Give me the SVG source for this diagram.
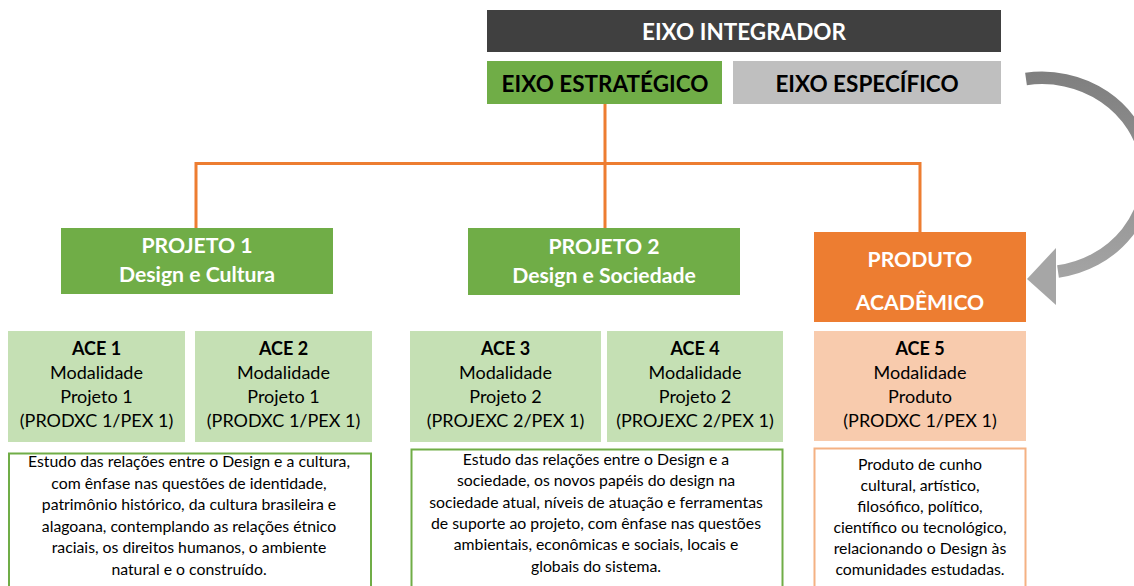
<svg xmlns="http://www.w3.org/2000/svg" width="1134" height="586" viewBox="0 0 1134 586">
<defs>
<style>
text{font-family:Lato,"Liberation Sans",sans-serif;text-anchor:middle}
.h{font-size:22.5px;font-weight:bold}
.p{font-size:21.2px;font-weight:bold;fill:#fff}
.a{font-size:18px;fill:#000}
.ab{font-weight:bold}
.d{font-size:15.8px;fill:#000}
.conn{fill:none;stroke:#ED7D31;stroke-width:3}
</style>
<linearGradient id="ag" gradientUnits="userSpaceOnUse" x1="0" y1="72" x2="0" y2="306">
<stop offset="0" stop-color="#7F7F7F"/>
<stop offset="1" stop-color="#A9A9A9"/>
</linearGradient>
</defs>
<rect width="1134" height="586" fill="#fff"/>
<g id="connectors">
<path class="conn" d="M605,104 V228 M196,163.5 H920 M196,162 V228 M920,162 V232"/>
<path d="M1026,79 A105 97 0 0 1 1058,271.5" fill="none" stroke="url(#ag)" stroke-width="12.5"/>
<polygon points="1027,279 1056,248 1056,305" fill="#A6A6A6"/>
</g>
<g id="eixo-integrador">
<rect x="487" y="10" width="514" height="42" fill="#404040"/>
<text class="h" x="744" y="40" fill="#fff">EIXO INTEGRADOR</text>
</g>
<g id="eixo-estrategico">
<rect x="487" y="61" width="235" height="43" fill="#70AD47"/>
<text class="h" x="605" y="92" fill="#000">EIXO ESTRATÉGICO</text>
</g>
<g id="eixo-especifico">
<rect x="733" y="61" width="268" height="43" fill="#BFBFBF"/>
<text class="h" x="867" y="92" fill="#000">EIXO ESPECÍFICO</text>
</g>
<g id="projeto1">
<rect x="61" y="228" width="272" height="66" fill="#70AD47"/>
<text class="p" x="197" y="253">PROJETO 1</text>
<text class="p" x="197" y="282">Design e Cultura</text>
</g>
<g id="projeto2">
<rect x="468" y="228" width="272" height="67" fill="#70AD47"/>
<text class="p" x="604" y="254">PROJETO 2</text>
<text class="p" x="604" y="283">Design e Sociedade</text>
</g>
<g id="produto">
<rect x="814" y="232" width="212" height="90" fill="#ED7D31"/>
<text class="p" x="920" y="267">PRODUTO</text>
<text class="p" x="920" y="310">ACADÊMICO</text>
</g>
<g id="ace1">
<rect x="8" y="331" width="177" height="111" fill="#C5E0B4"/>
<text class="a" x="96.5" y="355"><tspan class="ab">ACE 1</tspan><tspan x="96.5" y="379">Modalidade</tspan><tspan x="96.5" y="403">Projeto 1</tspan><tspan x="96.5" y="427">(PRODXC 1/PEX 1)</tspan></text>
</g>
<g id="ace2">
<rect x="195" y="331" width="177" height="111" fill="#C5E0B4"/>
<text class="a" x="283.5" y="355"><tspan class="ab">ACE 2</tspan><tspan x="283.5" y="379">Modalidade</tspan><tspan x="283.5" y="403">Projeto 1</tspan><tspan x="283.5" y="427">(PRODXC 1/PEX 1)</tspan></text>
</g>
<g id="ace3">
<rect x="410" y="331" width="191" height="111" fill="#C5E0B4"/>
<text class="a" x="505.5" y="355"><tspan class="ab">ACE 3</tspan><tspan x="505.5" y="379">Modalidade</tspan><tspan x="505.5" y="403">Projeto 2</tspan><tspan x="505.5" y="427">(PROJEXC 2/PEX 1)</tspan></text>
</g>
<g id="ace4">
<rect x="607" y="331" width="176" height="111" fill="#C5E0B4"/>
<text class="a" x="695" y="355"><tspan class="ab">ACE 4</tspan><tspan x="695" y="379">Modalidade</tspan><tspan x="695" y="403">Projeto 2</tspan><tspan x="695" y="427">(PROJEXC 2/PEX 1)</tspan></text>
</g>
<g id="ace5">
<rect x="814" y="331" width="212" height="110" fill="#F8CBAD"/>
<text class="a" x="920" y="355"><tspan class="ab">ACE 5</tspan><tspan x="920" y="379">Modalidade</tspan><tspan x="920" y="403">Produto</tspan><tspan x="920" y="427">(PRODXC 1/PEX 1)</tspan></text>
</g>
<g id="desc1">
<rect x="9" y="453.5" width="362" height="150" fill="#fff" stroke="#70AD47" stroke-width="2"/>
<text class="d" x="189" y="467"><tspan>Estudo das relações entre o Design e a cultura,</tspan><tspan x="189" y="488.6">com ênfase nas questões de identidade,</tspan><tspan x="189" y="510.2">patrimônio histórico, da cultura brasileira e</tspan><tspan x="189" y="531.8">alagoana, contemplando as relações étnico</tspan><tspan x="189" y="553.4">raciais, os direitos humanos, o ambiente</tspan><tspan x="189" y="575">natural e o construído.</tspan></text>
</g>
<g id="desc2">
<rect x="411.5" y="449.5" width="371" height="150" fill="#fff" stroke="#70AD47" stroke-width="2"/>
<text class="d" x="596" y="465"><tspan>Estudo das relações entre o Design e a</tspan><tspan x="596" y="486.3">sociedade, os novos papéis do design na</tspan><tspan x="596" y="507.6">sociedade atual, níveis de atuação e ferramentas</tspan><tspan x="596" y="528.9">de suporte ao projeto, com ênfase nas questões</tspan><tspan x="596" y="550.2">ambientais, econômicas e sociais, locais e</tspan><tspan x="596" y="571.5">globais do sistema.</tspan></text>
</g>
<g id="desc3">
<rect x="814.5" y="448.5" width="211" height="150" fill="#fff" stroke="#F4B183" stroke-width="2"/>
<text class="d" x="920" y="470"><tspan>Produto de cunho</tspan><tspan x="920" y="491">cultural, artístico,</tspan><tspan x="920" y="512">filosófico, político,</tspan><tspan x="920" y="533">científico ou tecnológico,</tspan><tspan x="920" y="554">relacionando o Design às</tspan><tspan x="920" y="575">comunidades estudadas.</tspan></text>
</g>
</svg>
